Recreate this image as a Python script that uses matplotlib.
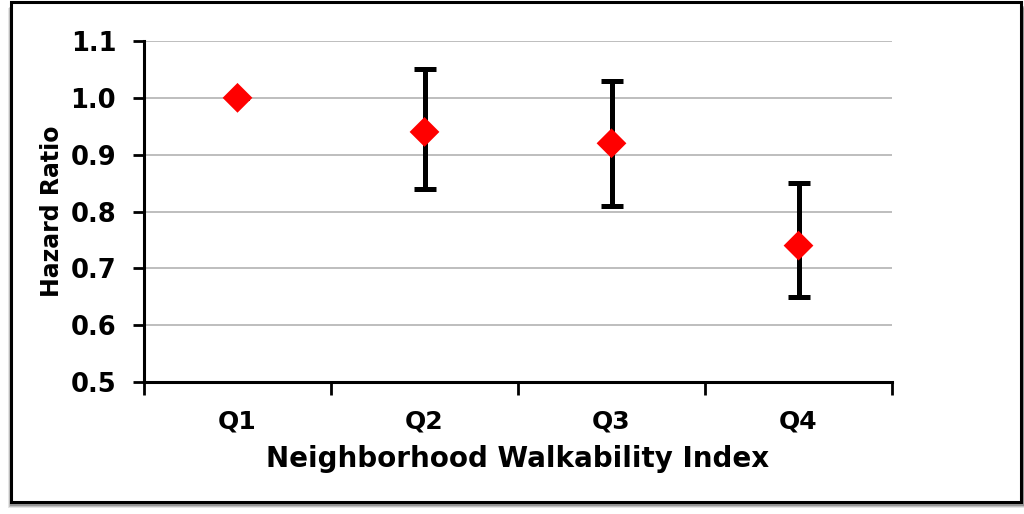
import matplotlib
matplotlib.use("Agg")
import matplotlib.pyplot as plt
from matplotlib.patches import Rectangle
import numpy as np

# Data
categories = ["Q1", "Q2", "Q3", "Q4"]
hazard_ratio = [1.00, 0.94, 0.92, 0.74]
ci_lower = [1.00, 0.84, 0.81, 0.65]
ci_upper = [1.00, 1.05, 1.03, 0.85]
y_ticks = [0.5, 0.6, 0.7, 0.8, 0.9, 1.0, 1.1]

plt.rcParams['font.family'] = ['DejaVu Sans']
plt.rcParams['font.weight'] = 'bold'

fig = plt.figure(figsize=(10.24, 5.14), dpi=100)

# Outer frame with a soft shadow
W, H = 1024, 514
for i, a in enumerate([0.10, 0.15, 0.22, 0.30]):
    off = 6 - i * 1.2
    fig.patches.append(Rectangle(((11 - 3 + i) / W, (H - 502 - off) / H),
                                 (1021 - 11 + off) / W, (502 - 2) / H,
                                 transform=fig.transFigure, facecolor='black',
                                 alpha=a, edgecolor='none', zorder=0))
fig.patches.append(Rectangle((11 / W, (H - 502) / H), (1021 - 11) / W, (502 - 2) / H,
                             transform=fig.transFigure, facecolor='white',
                             edgecolor='black', linewidth=2.2, zorder=1))

ax = fig.add_axes([144 / W, (H - 382) / H, (892 - 144) / W, (382 - 41) / H])
ax.set_zorder(2)
ax.patch.set_alpha(0)

x = np.arange(len(categories))
hr = np.array(hazard_ratio)
err = [hr - np.array(ci_lower), np.array(ci_upper) - hr]

ax.errorbar(x, hr, yerr=err, fmt='none', ecolor='black', elinewidth=3.6,
            capsize=8, capthick=3.6, zorder=3)
ax.scatter(x, hr, marker='D', s=230, color='#ff0000', edgecolors='none', zorder=4)

ax.set_xlim(-0.5, len(categories) - 0.5)
ax.set_ylim(0.5, 1.1)
ax.set_yticks(y_ticks)
ax.set_yticklabels([f"{v:.1f}" for v in y_ticks])
ax.set_xticks(x)
ax.set_xticklabels(categories)
ax.set_xticks(np.arange(len(categories) + 1) - 0.5, minor=True)

ax.yaxis.grid(True, color='#b3b3b3', linewidth=1.2)
ax.set_axisbelow(True)

for s in ['top', 'right']:
    ax.spines[s].set_visible(False)
for s in ['left', 'bottom']:
    ax.spines[s].set_linewidth(2.2)
    ax.spines[s].set_color('black')

ax.tick_params(axis='y', which='major', length=8, width=2, direction='out',
               labelsize=18.5, pad=12)
ax.tick_params(axis='x', which='major', length=0, labelsize=18, pad=20)
ax.tick_params(axis='x', which='minor', length=9, width=2, direction='out')

ax.set_ylabel("Hazard Ratio", fontsize=17, fontweight='bold', labelpad=5)
ax.set_xlabel("Neighborhood Walkability Index", fontsize=20, fontweight='bold', labelpad=8)

fig.savefig("out.png", dpi=100)
